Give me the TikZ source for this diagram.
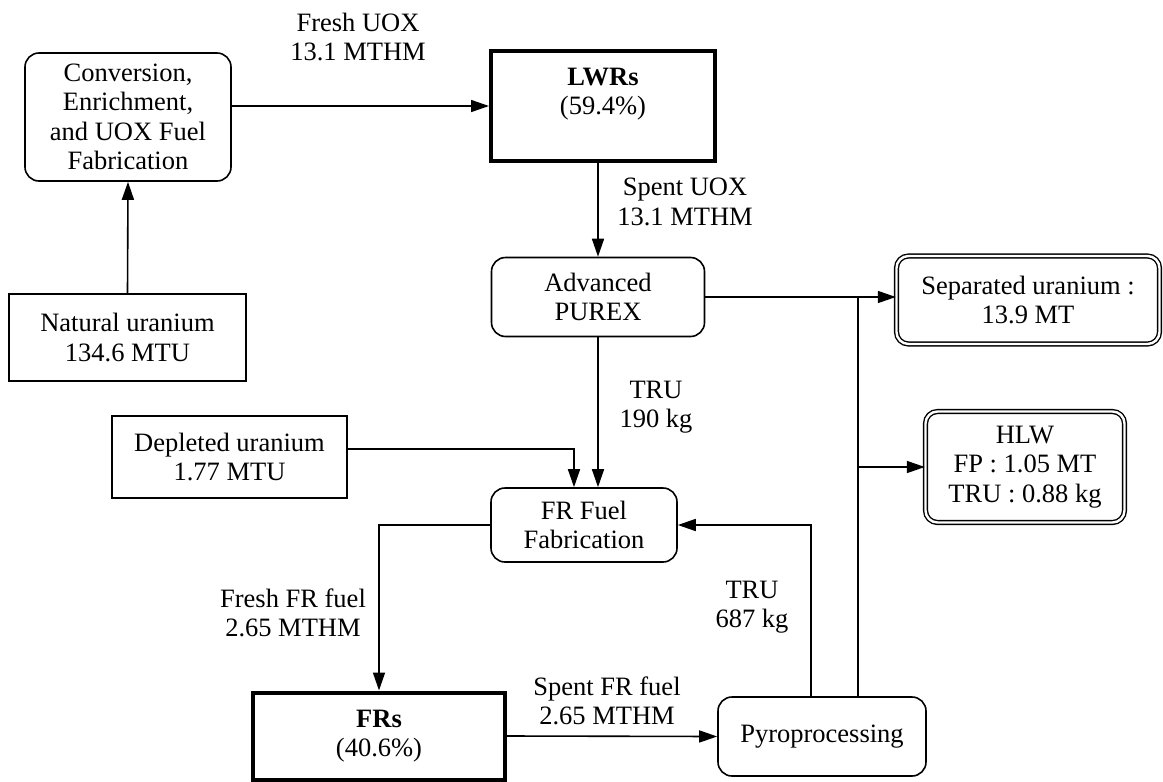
\documentclass[tikz,border=0pt]{standalone}
\usepackage{fontspec}
\setmainfont{Liberation Serif}
\usetikzlibrary{positioning,arrows.meta,calc}
\begin{document}
\begin{tikzpicture}[x=1pt, y=-1pt, font=\fontsize{26.5}{29.5}\selectfont,
  rbox/.style={draw, line width=1.6pt, rounded corners=14pt, align=center, inner sep=0pt},
  pbox/.style={draw, line width=1.6pt, align=center, inner sep=0pt},
  rx/.style={draw, line width=4pt, align=center, inner sep=0pt},
  store/.style={draw, line width=1.4pt, double, double distance=2.4pt, rounded corners=12pt, align=center, inner sep=0pt},
  lbl/.style={align=center, inner sep=0pt},
  ln/.style={line width=1.6pt},
  arr/.style={-{Triangle[length=18pt, width=12pt]}, line width=1.6pt}]
\useasboundingbox (0,0) rectangle (1163,782);
\node[rbox, minimum width=206, minimum height=128] (conv) at (128,117) {Conversion,\\Enrichment,\\and UOX Fuel\\Fabrication};
\node[rx, minimum width=224, minimum height=110] (lwr) at (603,106) {\textbf{LWRs}\\(59.4\%)\\\mbox{}};
\node[pbox, minimum width=237, minimum height=87] (nat) at (127.5,337.5) {Natural uranium\\134.6 MTU};
\node[pbox, minimum width=235, minimum height=82] (dep) at (229.5,457) {Depleted uranium\\1.77 MTU};
\node[rbox, minimum width=213, minimum height=79] (purex) at (598,297) {Advanced\\PUREX};
\node[store, minimum width=263, minimum height=88] (sep) at (1028,300) {Separated uranium :\\13.9 MT};
\node[store, minimum width=199, minimum height=111] (hlw) at (1025,467) {HLW\\FP : 1.05 MT\\TRU : 0.88 kg};
\node[rbox, minimum width=186, minimum height=74] (fab) at (584,525) {FR Fuel\\Fabrication};
\node[rx, minimum width=252, minimum height=87] (frs) at (379,736) {\textbf{FRs}\\(40.6\%)};
\node[rbox, minimum width=208, minimum height=79] (pyro) at (822,736.5) {Pyroprocessing};
\node[lbl] (lfreshuox) at (358,37) {Fresh UOX\\13.1 MTHM};
\node[lbl] (lspentuox) at (685,202) {Spent UOX\\13.1 MTHM};
\node[lbl] (ltrupurex) at (656,407) {TRU\\190 kg};
\node[lbl] (ltrupyro) at (752,607) {TRU\\687 kg};
\node[lbl] (lfreshfr) at (293,613) {Fresh FR fuel\\2.65 MTHM};
\node[lbl] (lspentfr) at (607,701) {Spent FR fuel\\2.65 MTHM};
\coordinate (bus) at (858,467);
\draw[arr] (conv.east |- lwr.west) -- (lwr.west);
\draw[arr] (nat.north) -- (conv.south);
\draw[arr] (lwr.south -| purex.north) -- (purex.north);
\draw[arr] (purex.east) -- (purex.east -| sep.west);
\draw[ln] (pyro.north -| bus) -- (bus |- purex.east);
\draw[arr] (bus) -- (hlw.west);
\draw[arr] (purex.south) -- (purex.south |- fab.north);
\draw[arr] ([yshift=8pt]dep.east) -| ([xshift=-10pt]fab.north);
\draw[arr] (fab.west) -| (frs.north);
\draw[arr] (frs.east) -- (pyro.west);
\draw[arr] ([xshift=-11pt]pyro.north) |- (fab.east);
\end{tikzpicture}
\end{document}
